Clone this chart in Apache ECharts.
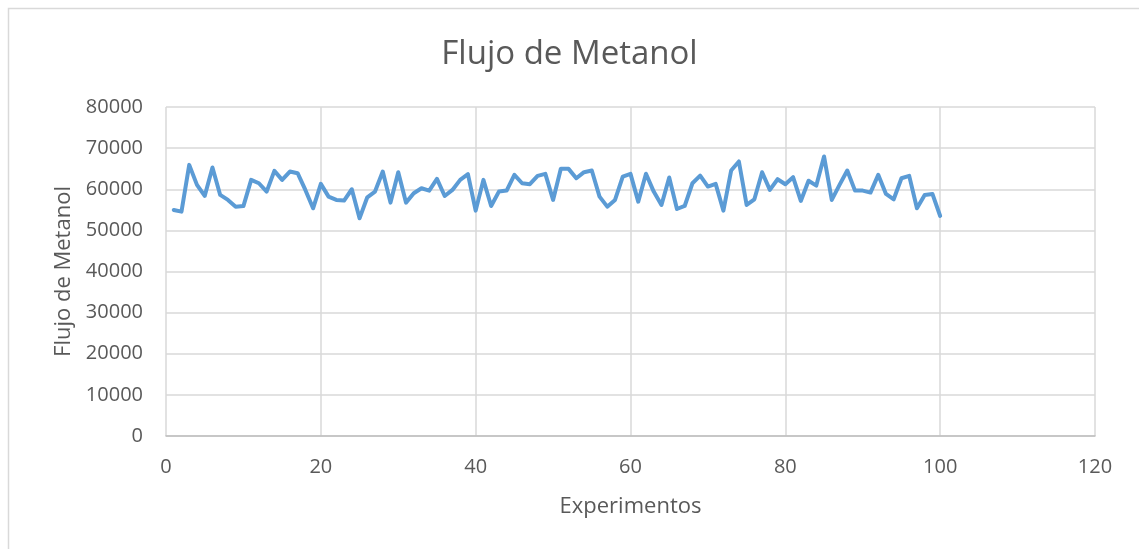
<!DOCTYPE html>
<html>
<head>
<meta charset="utf-8">
<script src="https://cdn.jsdelivr.net/npm/echarts@6/dist/echarts.min.js"></script>
<style>
  html, body { margin: 0; padding: 0; background: #ffffff; }
  #chart { width: 1139px; height: 549px; }
</style>
</head>
<body>
<div id="chart"></div>
<script>
// Experiment number (1..100) and the measured methanol flow for each one
const experimentos = [
  1, 2, 3, 4, 5, 6, 7, 8, 9, 10,
  11, 12, 13, 14, 15, 16, 17, 18, 19, 20,
  21, 22, 23, 24, 25, 26, 27, 28, 29, 30,
  31, 32, 33, 34, 35, 36, 37, 38, 39, 40,
  41, 42, 43, 44, 45, 46, 47, 48, 49, 50,
  51, 52, 53, 54, 55, 56, 57, 58, 59, 60,
  61, 62, 63, 64, 65, 66, 67, 68, 69, 70,
  71, 72, 73, 74, 75, 76, 77, 78, 79, 80,
  81, 82, 83, 84, 85, 86, 87, 88, 89, 90,
  91, 92, 93, 94, 95, 96, 97, 98, 99, 100
];
const flujoMetanol = [
  54960, 54550, 65930, 61060, 58370, 65280, 58620, 57400, 55770, 55900,
  62280, 61460, 59430, 64470, 62280, 64310, 63900, 59840, 55370, 61300,
  58200, 57400, 57240, 60000, 52930, 58050, 59430, 64310, 56750, 64150,
  56750, 59020, 60240, 59670, 62520, 58370, 59840, 62280, 63660, 54800,
  62280, 55930, 59430, 59670, 63500, 61460, 61220, 63250, 63740, 57400,
  64960, 64960, 62680, 64150, 64550, 58210, 55770, 57400, 63090, 63740,
  56990, 63780, 59430, 56180, 62850, 55200, 55930, 61460, 63330, 60650,
  61300, 54800, 64550, 66750, 56180, 57560, 64150, 59840, 62440, 61220,
  62930, 57150, 62070, 60890, 67970, 57400, 61060, 64550, 59670, 59670,
  59190, 63500, 58860, 57560, 62680, 63250, 55370, 58620, 58860, 53500
];
// Axis ranges and tick spacing
const xTicks = { min: 0, max: 120, step: 20 };
const yTicks = { min: 0, max: 80000, step: 10000 };

const serie = experimentos.map((x, i) => [x, flujoMetanol[i]]);

const textColor = '#595959';
const font = '"Open Sans", "Noto Sans", sans-serif';

const chart = echarts.init(document.getElementById('chart'), null, { renderer: 'canvas' });
chart.setOption({
  animation: false,
  backgroundColor: '#ffffff',
  textStyle: { fontFamily: font },
  title: {
    text: 'Flujo de Metanol',
    left: 'center',
    top: 33,
    textStyle: { fontFamily: font, fontSize: 33, fontWeight: 'normal', color: textColor }
  },
  graphic: [{
    type: 'rect',
    silent: true,
    shape: { x: 8.5, y: 8.5, width: 1400, height: 800 },
    style: { fill: 'none', stroke: '#d9d9d9', lineWidth: 1.5 }
  }],
  grid: { left: 166, right: 44, top: 107, bottom: 113, containLabel: false },
  xAxis: {
    type: 'value',
    min: xTicks.min,
    max: xTicks.max,
    interval: xTicks.step,
    name: 'Experimentos',
    nameLocation: 'middle',
    nameGap: 60,
    nameTextStyle: { fontFamily: font, fontSize: 22, color: textColor },
    axisLine: { show: true, lineStyle: { color: '#bfbfbf', width: 1.5 } },
    axisTick: { show: false },
    axisLabel: { fontFamily: font, fontSize: 20, color: textColor, margin: 21,
      formatter: v => String(v) },
    splitLine: { show: true, lineStyle: { color: '#d9d9d9', width: 1.5 } }
  },
  yAxis: {
    type: 'value',
    min: yTicks.min,
    max: yTicks.max,
    interval: yTicks.step,
    name: 'Flujo de Metanol',
    nameLocation: 'middle',
    nameGap: 89,
    nameTextStyle: { fontFamily: font, fontSize: 22, color: textColor },
    axisLine: { show: false },
    axisTick: { show: false },
    axisLabel: { fontFamily: font, fontSize: 20, color: textColor, margin: 23,
      formatter: v => String(v) },
    splitLine: { show: true, lineStyle: { color: '#d9d9d9', width: 1.5 } }
  },
  series: [{
    type: 'line',
    data: serie,
    showSymbol: false,
    smooth: false,
    lineStyle: { color: '#5b9bd5', width: 4, join: 'round', cap: 'round' },
    itemStyle: { color: '#5b9bd5' }
  }]
});
</script>
</body>
</html>
